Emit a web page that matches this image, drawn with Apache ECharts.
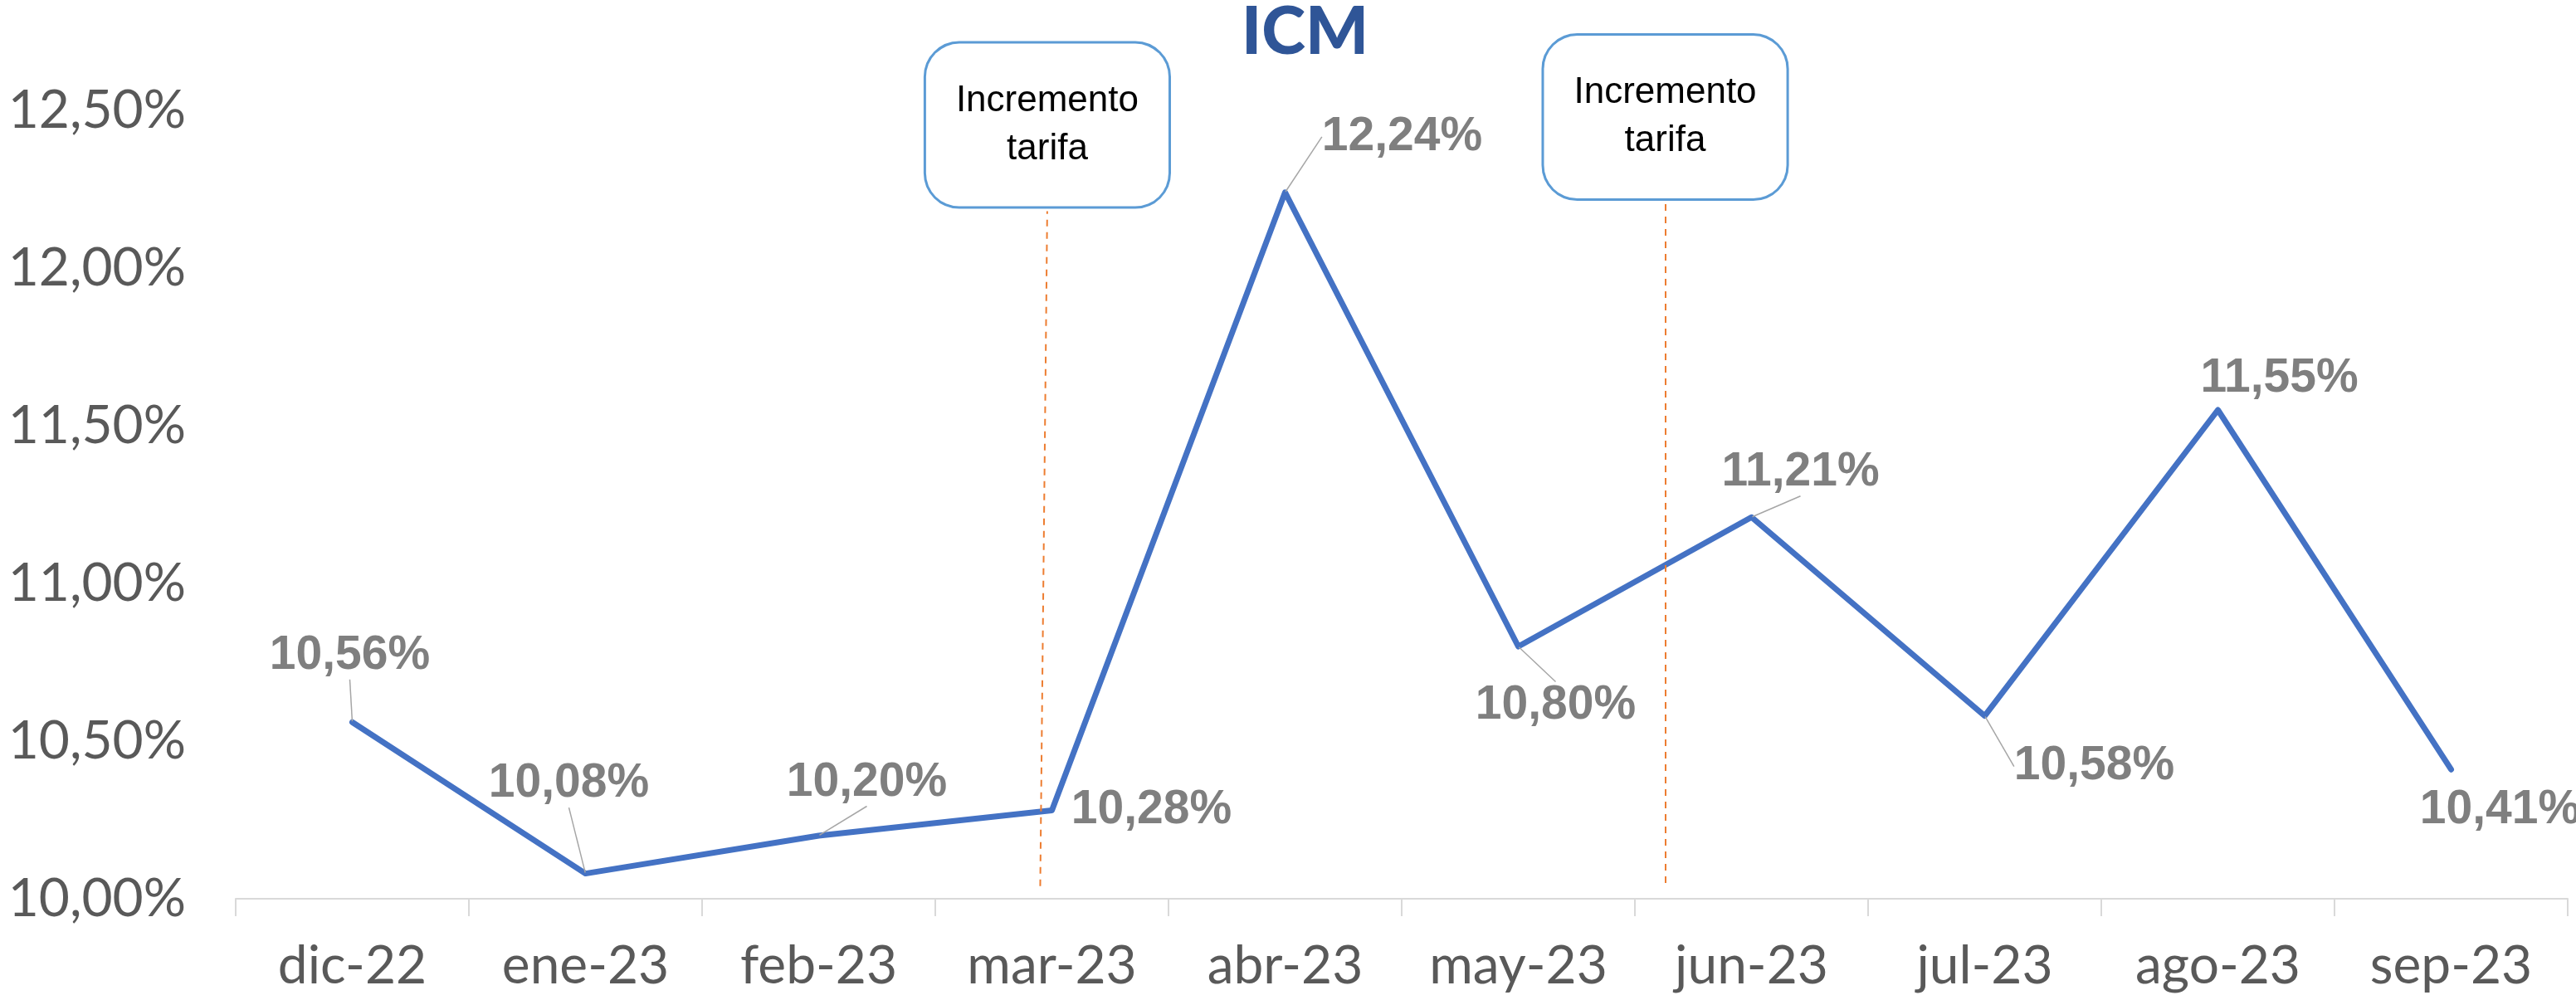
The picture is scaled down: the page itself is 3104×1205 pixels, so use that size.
<!DOCTYPE html>
<html>
<head>
<meta charset="utf-8">
<script src="https://cdn.jsdelivr.net/npm/echarts@6/dist/echarts.min.js"></script>
<style>
  html, body { margin: 0; padding: 0; background: #fff; }
  #chart { width: 3104px; height: 1205px; }
</style>
</head>
<body>
<div id="chart"></div>
<script>
// datos
const months = ['dic-22', 'ene-23', 'feb-23', 'mar-23', 'abr-23', 'may-23', 'jun-23', 'jul-23', 'ago-23', 'sep-23'];
const icm = [10.56, 10.08, 10.20, 10.28, 12.24, 10.80, 11.21, 10.58, 11.55, 10.41];
const yTicks = [10, 10.5, 11, 11.5, 12, 12.5];
const annotationText = 'Incremento\ntarifa';

// desplazamiento de etiquetas (px) y si llevan linea guia
const labelShift = [[-3, -80], [-20, -108], [58, -64], [120, 0], [141, -67], [45, 71], [59, -54], [132, 61], [74, -38], [59, 49]];
const showGuide = [true, true, true, false, true, true, true, true, false, false];

const fmt = v => v.toFixed(2).replace('.', ',') + '%';

const myChart = echarts.init(document.getElementById('chart'));

myChart.setOption({
    animation: false,
    title: {
        text: 'ICM',
        left: 1491,
        top: -6,
        textStyle: {
            fontFamily: 'Lato',
            fontWeight: 900,
            fontSize: 80,
            color: '#2F5597'
        }
    },
    grid: { left: 284, right: 10, top: 133, bottom: 122 },
    xAxis: [
        {
            type: 'category',
            data: months,
            boundaryGap: true,
            axisLine: { lineStyle: { color: '#D9D9D9', width: 2 } },
            axisTick: { show: true, length: 21, lineStyle: { color: '#D9D9D9', width: 2 } },
            axisLabel: {
                fontFamily: 'Lato',
                fontSize: 64,
                lineHeight: 64,
                color: '#595959',
                margin: 49
            }
        },
        {
            // eje auxiliar para las lineas de anotacion
            type: 'value',
            min: -0.5,
            max: 9.5,
            show: false
        }
    ],
    yAxis: {
        type: 'value',
        min: yTicks[0],
        max: yTicks[yTicks.length - 1],
        interval: 0.5,
        axisLine: { show: false },
        axisTick: { show: false },
        splitLine: { show: false },
        axisLabel: {
            formatter: fmt,
            fontFamily: 'Lato',
            fontSize: 64,
            color: '#595959',
            margin: 60
        }
    },
    series: [
        {
            type: 'line',
            data: icm.map((v, i) => ({ value: v, labelLine: { show: showGuide[i] } })),
            symbol: 'circle',
            symbolSize: 2,
            itemStyle: { color: '#4472C4' },
            lineStyle: { color: '#4472C4', width: 7, cap: 'round', join: 'round' },
            label: {
                show: true,
                position: 'inside',
                formatter: p => fmt(p.value),
                fontFamily: 'Liberation Sans',
                fontWeight: 'bold',
                fontSize: 57,
                color: '#7F7F7F'
            },
            labelLine: {
                show: true,
                lineStyle: { color: '#A6A6A6', width: 1.5 }
            },
            labelLayout: function (params) {
                const s = labelShift[params.dataIndex];
                const cx = params.rect.x + params.rect.width / 2;
                const cy = params.rect.y + params.rect.height / 2;
                return { x: cx + s[0], y: cy + s[1], align: 'center', verticalAlign: 'middle' };
            }
        },
        {
            type: 'line',
            xAxisIndex: 1,
            data: [],
            markLine: {
                silent: true,
                symbol: 'none',
                lineStyle: { color: '#ED7D31', type: [8, 7], width: 2 },
                label: {
                    show: true,
                    position: 'end',
                    distance: 6,
                    formatter: annotationText,
                    fontFamily: 'Liberation Sans',
                    fontSize: 44,
                    lineHeight: 58,
                    color: '#000',
                    align: 'center',
                    backgroundColor: '#fff',
                    borderColor: '#5B9BD5',
                    borderWidth: 3,
                    borderRadius: 40,
                    padding: [40, 36]
                },
                data: [
                    [{ coord: [2.95, 10.04] }, { coord: [2.98, 12.18] }],
                    [{ coord: [5.63, 10.05] }, { coord: [5.63, 12.205] }]
                ]
            }
        }
    ]
});

window.addEventListener('resize', () => {
    myChart.resize();
});
</script>
</body>
</html>
